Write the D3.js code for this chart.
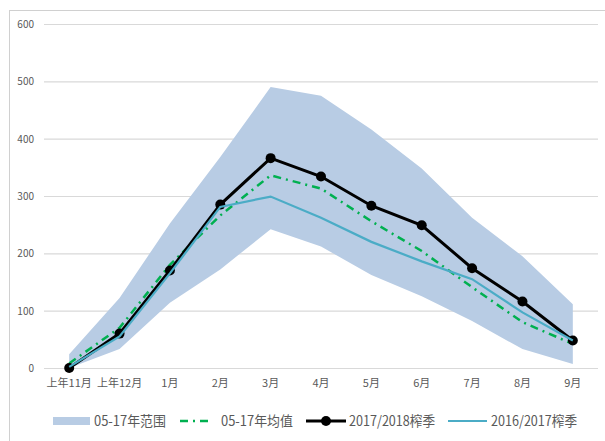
<!DOCTYPE html>
<html>
<head>
<meta charset="utf-8">
<script src="https://cdn.jsdelivr.net/npm/d3@7"></script>
<style>
  body { margin: 0; background: #fff; }
  svg { display: block; }
  text { font-family: "Liberation Sans Narrow", "Noto Sans CJK SC", sans-serif; }
</style>
</head>
<body>
<svg width="605" height="441"></svg>
<script>
const months = ["上年11月", "上年12月", "1月", "2月", "3月", "4月", "5月", "6月", "7月", "8月", "9月"];
const rangeLow = [0, 33, 114, 172, 242, 212, 162, 125, 82, 33, 7];
const rangeHigh = [24, 122, 252, 368, 490, 475, 416, 348, 262, 195, 111];
const avg = [8, 70, 180, 266, 336, 313, 256, 204, 141, 80, 42];
const season1718 = [0, 60, 170, 285, 366, 334, 283, 249, 174, 116, 48];
const season1617 = [2, 55, 165, 281, 299, 262, 220, 186, 155, 97, 48];
const yTicks = [0, 100, 200, 300, 400, 500, 600];

const legendItems = [
    { key: "band", label: "05-17年范围", w: 72 },
    { key: "avg", label: "05-17年均值", w: 72 },
    { key: "s1718", label: "2017/2018榨季", w: 86 },
    { key: "s1617", label: "2016/2017榨季", w: 86 }
];

const svg = d3.select("svg");

// outer chart border (cropped on right/bottom)
svg.append("rect")
    .attr("x", 9.5).attr("y", 10.5)
    .attr("width", 700).attr("height", 500)
    .attr("fill", "none")
    .attr("stroke", "#d0d0d0");

const x = d3.scalePoint().domain(months).range([44, 598]).padding(0.5);
const y = d3.scaleLinear().domain([0, 600]).range([368, 24]);

// gridlines
svg.append("g")
    .selectAll("line")
    .data(yTicks)
    .join("line")
    .attr("x1", 44).attr("x2", 598)
    .attr("y1", d => y(d) + 0.5).attr("y2", d => y(d) + 0.5)
    .attr("stroke", "#d9d9d9")
    .attr("stroke-width", 1.2);

// y labels
svg.append("g")
    .selectAll("text")
    .data(yTicks)
    .join("text")
    .attr("x", 34)
    .attr("y", d => y(d) + 4)
    .attr("text-anchor", "end")
    .attr("font-size", 10)
    .attr("fill", "#595959")
    .text(d => d);

// x labels
svg.append("g")
    .selectAll("text")
    .data(months)
    .join("text")
    .attr("x", d => x(d))
    .attr("y", 387)
    .attr("text-anchor", "middle")
    .attr("font-size", 11)
    .attr("fill", "#595959")
    .text(d => d);

// range band
const area = d3.area()
    .x((d, i) => x(months[i]))
    .y0((d, i) => y(rangeLow[i]))
    .y1((d, i) => y(rangeHigh[i]));

svg.append("path")
    .datum(months)
    .attr("d", area)
    .attr("fill", "#b8cce4");

const line = d3.line().x((d, i) => x(months[i])).y(d => y(d));

svg.append("path")
    .datum(avg)
    .attr("d", line)
    .attr("fill", "none")
    .attr("stroke", "#00b050")
    .attr("stroke-width", 2.5)
    .attr("stroke-dasharray", "8,5,2,5");

svg.append("path")
    .datum(season1718)
    .attr("d", line)
    .attr("fill", "none")
    .attr("stroke", "#000")
    .attr("stroke-width", 3);

svg.append("g")
    .selectAll("circle")
    .data(season1718)
    .join("circle")
    .attr("cx", (d, i) => x(months[i]))
    .attr("cy", d => y(d))
    .attr("r", 5)
    .attr("fill", "#000");

// 16/17 season is drawn last, on top
svg.append("path")
    .datum(season1617)
    .attr("d", line)
    .attr("fill", "none")
    .attr("stroke", "#4bacc6")
    .attr("stroke-width", 2.2);

// legend
const legendX = [53, 180, 306, 448];
const legend = svg.append("g");
const ly = 421;

legendItems.forEach((item, i) => {
    const lx = legendX[i];
    let textX;
    if (item.key === "band") {
        legend.append("rect").attr("x", lx).attr("y", ly - 4).attr("width", 37).attr("height", 8).attr("fill", "#b8cce4");
        textX = lx + 41;
    } else if (item.key === "avg") {
        legend.append("line").attr("x1", lx).attr("x2", lx + 33).attr("y1", ly).attr("y2", ly)
            .attr("stroke", "#00b050").attr("stroke-width", 2.5).attr("stroke-dasharray", "8,5,2,5");
        textX = lx + 41;
    } else if (item.key === "s1718") {
        legend.append("line").attr("x1", lx).attr("x2", lx + 40).attr("y1", ly).attr("y2", ly)
            .attr("stroke", "#000").attr("stroke-width", 3);
        legend.append("circle").attr("cx", lx + 20).attr("cy", ly).attr("r", 5).attr("fill", "#000");
        textX = lx + 43;
    } else {
        legend.append("line").attr("x1", lx).attr("x2", lx + 39).attr("y1", ly).attr("y2", ly)
            .attr("stroke", "#4bacc6").attr("stroke-width", 2.2);
        textX = lx + 43;
    }
    legend.append("text")
        .attr("x", textX)
        .attr("y", ly + 5)
        .attr("font-size", 14)
        .attr("fill", "#595959")
        .attr("textLength", item.w)
        .attr("lengthAdjust", "spacingAndGlyphs")
        .text(item.label);
});
</script>
</body>
</html>
